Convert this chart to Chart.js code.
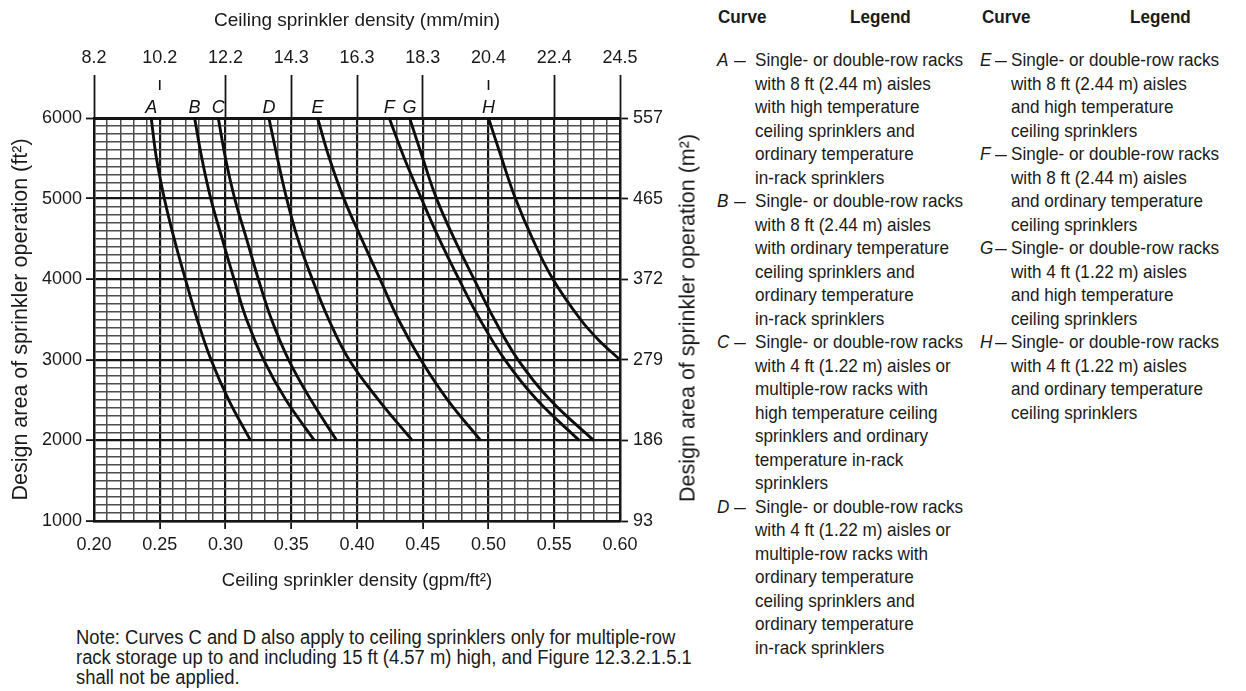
<!DOCTYPE html>
<html>
<head>
<meta charset="utf-8">
<script src="https://cdn.jsdelivr.net/npm/chart.js@4.4.1/dist/chart.umd.min.js"></script>
<style>
html,body{margin:0;padding:0;background:#fff;}
body{width:1246px;height:691px;position:relative;overflow:hidden;font-family:"Liberation Sans",Arial,sans-serif;color:#1a1a1a;}
#chartWrap{position:absolute;left:0;top:0;width:700px;height:600px;}
#rightTitle{position:absolute;left:688px;top:318px;transform:translate(-50%,-50%) rotate(-90deg);white-space:nowrap;font-size:21.5px;color:#1a1a1a;}
.t{position:absolute;white-space:nowrap;font-size:19px;line-height:23.5px;color:#1a1a1a;transform:scaleX(0.9);transform-origin:0 50%;}
.hd{font-weight:bold;}
.let{font-style:italic;}
.dash{transform:scaleX(0.62);}
.nl{position:absolute;left:76px;white-space:nowrap;font-size:20px;line-height:20px;color:#1a1a1a;transform:scaleX(0.92);transform-origin:0 50%;}
</style>
</head>
<body>
<div id="chartWrap"><canvas id="c" width="700" height="600"></canvas></div>
<div id="rightTitle">Design area of sprinkler operation (m²)</div>
<div id="legend"></div>
<div id="note"></div>
<script>
// ---- data ----
const areas = [6000, 5500, 5000, 4500, 4000, 3500, 3000, 2500, 2000];
const areasH = [6000, 5500, 5000, 4500, 4000, 3500, 3250, 3000];
const curveA = [0.2435, 0.2475, 0.2535, 0.2610, 0.2695, 0.2785, 0.2890, 0.3025, 0.3190];
const curveB = [0.2765, 0.2820, 0.2888, 0.2975, 0.3065, 0.3160, 0.3290, 0.3460, 0.3675];
const curveC = [0.2945, 0.3000, 0.3070, 0.3160, 0.3250, 0.3350, 0.3480, 0.3650, 0.3845];
const curveD = [0.3330, 0.3395, 0.3465, 0.3550, 0.3660, 0.3785, 0.3940, 0.4165, 0.4420];
const curveE = [0.3700, 0.3790, 0.3900, 0.4035, 0.4175, 0.4315, 0.4485, 0.4690, 0.4940];
const curveF = [0.4245, 0.4360, 0.4490, 0.4625, 0.4775, 0.4935, 0.5125, 0.5370, 0.5690];
const curveG = [0.4400, 0.4500, 0.4605, 0.4740, 0.4890, 0.5045, 0.5225, 0.5470, 0.5800];
const curveH = [0.5000, 0.5100, 0.5205, 0.5335, 0.5490, 0.5700, 0.5835, 0.6000];
const curveLetters = ['A','B','C','D','E','F','G','H'];

const gpmTickLabels = ['0.20','0.25','0.30','0.35','0.40','0.45','0.50','0.55','0.60'];
const mmTickLabels  = ['8.2','10.2','12.2','14.3','16.3','18.3','20.4','22.4','24.5'];
const ftTickLabels  = ['1000','2000','3000','4000','5000','6000'];
const m2TickLabels  = ['93','186','279','372','465','557'];
const shortTopTicks = [1, 6]; // 10.2 and 20.4 marks stand apart from the grid

const legendLeft = [
  ['A', ['Single- or double-row racks','with 8 ft (2.44 m) aisles','with high temperature','ceiling sprinklers and','ordinary temperature','in-rack sprinklers']],
  ['B', ['Single- or double-row racks','with 8 ft (2.44 m) aisles','with ordinary temperature','ceiling sprinklers and','ordinary temperature','in-rack sprinklers']],
  ['C', ['Single- or double-row racks','with 4 ft (1.22 m) aisles or','multiple-row racks with','high temperature ceiling','sprinklers and ordinary','temperature in-rack','sprinklers']],
  ['D', ['Single- or double-row racks','with 4 ft (1.22 m) aisles or','multiple-row racks with','ordinary temperature','ceiling sprinklers and','ordinary temperature','in-rack sprinklers']]
];
const legendRight = [
  ['E', ['Single- or double-row racks','with 8 ft (2.44 m) aisles','and high temperature','ceiling sprinklers']],
  ['F', ['Single- or double-row racks','with 8 ft (2.44 m) aisles','and ordinary temperature','ceiling sprinklers']],
  ['G', ['Single- or double-row racks','with 4 ft (1.22 m) aisles','and high temperature','ceiling sprinklers']],
  ['H', ['Single- or double-row racks','with 4 ft (1.22 m) aisles','and ordinary temperature','ceiling sprinklers']]
];
const noteLines = [
  'Note: Curves C and D also apply to ceiling sprinklers only for multiple-row',
  'rack storage up to and including 15 ft (4.57 m) high, and Figure 12.3.2.1.5.1',
  'shall not be applied.'
];

// ---- legend & note (HTML text) ----
const LH = 23.5;
const legendEl = document.getElementById('legend');
function addText(cls, text, left, top){
  const d = document.createElement('div');
  d.className = 't ' + cls;
  d.style.left = left + 'px';
  d.style.top = top + 'px';
  d.textContent = text;
  legendEl.appendChild(d);
}
addText('hd','Curve',718,5);
addText('hd','Legend',850,5);
addText('hd','Curve',982,5);
addText('hd','Legend',1130,5);
function buildColumn(entries, letterX, dashX, textX, startTop){
  let row = 0;
  entries.forEach(([letter, lines]) => {
    addText('let', letter, letterX, startTop + row*LH);
    addText('dash', '—', dashX, startTop + row*LH);
    lines.forEach((ln) => { addText('', ln, textX, startTop + row*LH); row++; });
  });
}
buildColumn(legendLeft, 717, 734, 755, 48);
buildColumn(legendRight, 980, 995, 1011, 48);
const noteEl = document.getElementById('note');
noteLines.forEach((s,i)=>{
  const d = document.createElement('div');
  d.className = 'nl';
  d.style.top = (627 + i*20) + 'px';
  d.textContent = s;
  noteEl.appendChild(d);
});

// ---- chart ----
function pts(xs, ys){ return xs.map((x,i)=>({x:x, y:ys[i]})); }
const curveSeries = [curveA,curveB,curveC,curveD,curveE,curveF,curveG,curveH];
const datasets = curveSeries.map((c,i)=>({
  label: curveLetters[i],
  data: pts(c, i===7 ? areasH : areas),
  borderColor:'#0d0d0d', borderWidth:2.9, pointRadius:0,
  tension:0.4, fill:false, clip:false
}));

const MAJOR = '#151515', MINOR = '#4d4d4d';
const tickFont = {family:'"Liberation Sans", Arial, sans-serif', size:18};
const titleFont = {family:'"Liberation Sans", Arial, sans-serif', size:19};
const titleFontV = {family:'"Liberation Sans", Arial, sans-serif', size:21.5};

const labelPlugin = {
  id:'curveLabels',
  afterDatasetsDraw(chart){
    const ctx = chart.ctx;
    ctx.save();
    ctx.font = 'italic 18px "Liberation Sans", Arial, sans-serif';
    ctx.fillStyle = '#111';
    ctx.textAlign = 'center';
    ctx.textBaseline = 'alphabetic';
    chart.data.datasets.forEach((ds,i)=>{
      const p = chart.getDatasetMeta(i).data[0];
      ctx.fillText(ds.label, p.x, p.y - 5);
    });
    const x2 = chart.scales.x2;
    ctx.strokeStyle = MAJOR; ctx.lineWidth = 1.6;
    shortTopTicks.forEach(k=>{
      const px = x2.getPixelForValue(x2.ticks[k].value);
      ctx.beginPath(); ctx.moveTo(px, x2.bottom - 38); ctx.lineTo(px, x2.bottom - 28); ctx.stroke();
    });
    ctx.restore();
  }
};

new Chart(document.getElementById('c'), {
  type:'line',
  data:{datasets},
  plugins:[labelPlugin],
  options:{
    responsive:false, animation:false, devicePixelRatio:1,
    layout:{padding:0},
    plugins:{legend:{display:false}, tooltip:{enabled:false}},
    scales:{
      x:{
        type:'linear', position:'bottom', min:0.2, max:0.6,
        afterFit(s){ s.height = 79; },
        ticks:{stepSize:0.01, maxTicksLimit:1000, autoSkip:false, maxRotation:0, padding:5,
          color:'#1a1a1a', font:tickFont,
          callback:(v,i)=> i%5===0 ? gpmTickLabels[i/5] : ''},
        grid:{display:true, drawOnChartArea:true, drawTicks:true, tickLength:8,
          color:(c)=> c.index%5===0 ? MAJOR : MINOR,
          lineWidth:(c)=> c.index%5===0 ? 2.2 : 1.5,
          tickColor:(c)=> (c.index%5===0 && c.index>0 && c.index<40) ? MAJOR : 'rgba(0,0,0,0)',
          tickWidth:1.8},
        border:{display:true, color:MAJOR, width:2.6},
        title:{display:true, text:'Ceiling sprinkler density (gpm/ft²)', color:'#1a1a1a', font:{family:titleFont.family, size:18.5}, padding:{top:0,bottom:8}}
      },
      x2:{
        type:'linear', position:'top', min:0.2, max:0.6,
        afterFit(s){ s.height = 118; },
        ticks:{stepSize:0.05, maxTicksLimit:1000, autoSkip:false, maxRotation:0, padding:6,
          color:'#1a1a1a', font:tickFont,
          callback:(v,i)=> mmTickLabels[i]},
        grid:{display:true, drawOnChartArea:false, drawTicks:true, tickLength:43,
          tickColor:(c)=> shortTopTicks.includes(c.index) ? 'rgba(0,0,0,0)' : MAJOR,
          tickWidth:1.8},
        border:{display:true, color:MAJOR, width:3},
        title:{display:true, text:'Ceiling sprinkler density (mm/min)', color:'#1a1a1a', font:titleFont, padding:{top:9,bottom:0}}
      },
      y:{
        type:'linear', position:'left', min:1000, max:6000,
        afterFit(s){ s.width = 94; },
        ticks:{stepSize:100, maxTicksLimit:1000, autoSkip:false, padding:4,
          color:'#1a1a1a', font:tickFont,
          callback:(v,i)=> i%10===0 ? ftTickLabels[i/10] : ''},
        grid:{display:true, drawOnChartArea:true, drawTicks:true, tickLength:8,
          color:(c)=> c.index%10===0 ? MAJOR : MINOR,
          lineWidth:(c)=> c.index%10===0 ? (c.index===50 ? 3 : 2.2) : 1.5,
          tickColor:(c)=> c.index%10===0 ? MAJOR : 'rgba(0,0,0,0)',
          tickWidth:1.8},
        border:{display:true, color:MAJOR, width:2.4},
        title:{display:true, text:'Design area of sprinkler operation (ft²)', color:'#1a1a1a', font:titleFontV, padding:{top:8,bottom:0}}
      },
      y2:{
        type:'linear', position:'right', min:1000, max:6000,
        afterFit(s){ s.width = 80; },
        ticks:{stepSize:1000, maxTicksLimit:1000, autoSkip:false, padding:5,
          color:'#1a1a1a', font:tickFont,
          callback:(v,i)=> m2TickLabels[i]},
        grid:{display:true, drawOnChartArea:false, drawTicks:true, tickLength:8, tickColor:MAJOR, tickWidth:1.8},
        border:{display:true, color:MAJOR, width:2.4}
      }
    }
  }
});
</script>
</body>
</html>
